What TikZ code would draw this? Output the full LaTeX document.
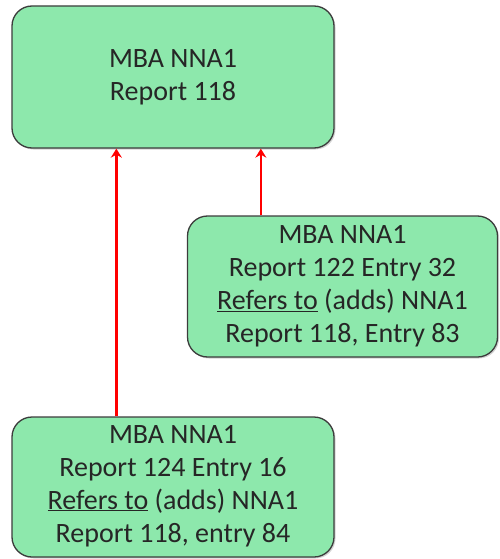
\documentclass[tikz,border=0pt]{standalone}
\usepackage{fontspec}
\setmainfont{Carlito}
\usetikzlibrary{arrows.meta,shadows}
\definecolor{boxgreen}{HTML}{8DE8AC}
\definecolor{boxedge}{HTML}{3C3C3C}
\definecolor{arrred}{HTML}{FF0000}
\definecolor{txt}{HTML}{262626}
\tikzset{
  greenbox/.style={draw=boxedge, line width=1.3pt, fill=boxgreen, rounded corners=20pt,
    align=center, inner sep=0pt, text=txt,
    font=\fontsize{28}{33}\selectfont,
    drop shadow={shadow xshift=1.5pt, shadow yshift=-1.5pt, opacity=0.35}},
  refarrow/.style={draw=arrred, line width=2.6pt, -{Stealth[length=9pt,width=11pt,inset=3pt]}}
}
\begin{document}
\begin{tikzpicture}[x=1pt,y=-1pt]
\useasboundingbox (0,0) rectangle (499,559);
\node[greenbox, minimum width=322pt, minimum height=142pt] (top) at (173,77)
  {MBA NNA1\\Report 118};
\node[greenbox, minimum width=310pt, minimum height=141pt] (rb) at (342.5,286.5)
  {MBA NNA1\\Report 122 Entry 32\\\underline{Refers to} (adds) NNA1\\ Report 118, Entry 83};
\node[greenbox, minimum width=322pt, minimum height=140pt] (bot) at (173,487)
  {\raisebox{0pt}{}MBA NNA1\\Report 124 Entry 16\\\underline{Refers to} (adds) NNA1\\Report 118, entry 84\rule[-7pt]{0pt}{0pt}};
\draw[refarrow] ([xshift=105pt]bot.north west) -- ([xshift=105pt]bot.north west |- top.south);
\draw[refarrow] ([xshift=74pt]rb.north west) -- ([xshift=74pt]rb.north west |- top.south);
\end{tikzpicture}
\end{document}
